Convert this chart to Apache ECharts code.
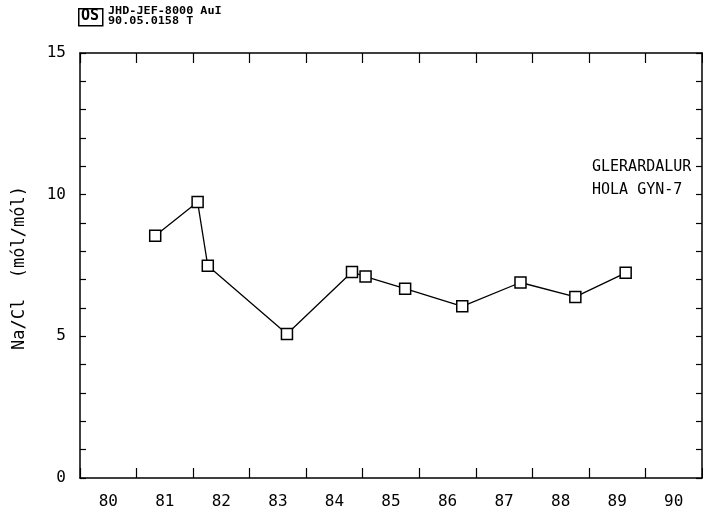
<!DOCTYPE html>
<html>
<head>
<meta charset="utf-8">
<script src="https://cdn.jsdelivr.net/npm/echarts@6/dist/echarts.min.js"></script>
<style>
html,body{margin:0;padding:0;background:#fff;}
#chart{width:703px;height:515px;}
</style>
</head>
<body>
<div id="chart"></div>
<script>
// Year labels on x axis (centered within each year)
var yearLabels = ['80','81','82','83','84','85','86','87','88','89','90'];
// Sample dates (decimal years, 19xx)
var sampleYears = [81.33, 82.08, 82.26, 83.66, 84.81, 85.05, 85.75, 86.76, 87.79, 88.76, 89.65];
// Na/Cl ratio (mol/mol)
var naClRatio = [8.55, 9.74, 7.49, 5.08, 7.27, 7.11, 6.68, 6.06, 6.90, 6.39, 7.24];
var yTickLabels = ['0','5','10','15'];

var FONT = 'DejaVu Sans Mono';
var chart = echarts.init(document.getElementById('chart'), null, {renderer:'canvas'});

var seriesData = sampleYears.map(function(x, i){ return [x, naClRatio[i]]; });
var lineCol = '#000';

var option = {
  animation: false,
  backgroundColor: '#fff',
  grid: {left: 80, top: 53, width: 622, height: 425, containLabel: false},
  xAxis: [
    {type:'value', min:80, max:91, interval:1, position:'bottom',
     axisLine:{show:true, onZero:false, lineStyle:{color:lineCol, width:1.5}},
     axisTick:{show:true, inside:true, length:10, lineStyle:{color:lineCol, width:1.2}},
     axisLabel:{show:false}, splitLine:{show:false}},
    {type:'value', min:80, max:91, interval:1, position:'top',
     axisLine:{show:true, onZero:false, lineStyle:{color:lineCol, width:1.5}},
     axisTick:{show:true, inside:true, length:10, lineStyle:{color:lineCol, width:1.2}},
     axisLabel:{show:false}, splitLine:{show:false}},
    {type:'category', data: yearLabels, position:'bottom', boundaryGap:true,
     axisLine:{show:false}, axisTick:{show:false}, splitLine:{show:false},
     axisLabel:{show:true, margin:16, color:'#000', fontFamily:FONT, fontSize:16}}
  ],
  yAxis: [
    {type:'value', min:0, max:15, interval:1, position:'left',
     axisLine:{show:true, onZero:false, lineStyle:{color:lineCol, width:1.5}},
     axisTick:{show:true, inside:true, length:6, lineStyle:{color:lineCol, width:1.2}},
     axisLabel:{show:true, margin:14, color:'#000', fontFamily:FONT, fontSize:16,
       formatter:function(v){ return yTickLabels.indexOf(String(v)) >= 0 ? String(v) : ''; }},
     splitLine:{show:false}},
    {type:'value', min:0, max:15, interval:1, position:'right',
     axisLine:{show:true, onZero:false, lineStyle:{color:lineCol, width:1.5}},
     axisTick:{show:true, inside:true, length:6, lineStyle:{color:lineCol, width:1.2}},
     axisLabel:{show:false}, splitLine:{show:false}}
  ],
  series: [{
    type:'line', xAxisIndex:0, yAxisIndex:0,
    data: seriesData,
    symbol:'rect', symbolSize:11,
    lineStyle:{color:'#000', width:1.3},
    itemStyle:{color:'#fff', borderColor:'#000', borderWidth:1.5}
  }],
  graphic: [
    {type:'rect', left:78, top:8, shape:{width:24, height:17},
     style:{fill:'#fff', stroke:'#000', lineWidth:1.5}},
    {type:'text', left:81, top:9, style:{text:'OS', font:'bold 15px "DejaVu Sans Mono"', fill:'#000'}},
    {type:'text', x:108, y:6, scaleX:1.18, style:{text:'JHD-JEF-8000 AuI\n90.05.0158 T', font:'bold 10px "DejaVu Sans Mono"', fill:'#000', lineHeight:10}},
    {type:'text', left:592, top:160, style:{text:'GLERARDALUR', font:'15px "DejaVu Sans Mono"', fill:'#000'}},
    {type:'text', left:592, top:183, style:{text:'HOLA GYN-7', font:'15px "DejaVu Sans Mono"', fill:'#000'}},
    {type:'text', x:20, y:268, rotation:Math.PI/2,
     style:{text:'Na/Cl  (mól/mól)', font:'17px "DejaVu Sans Mono"', fill:'#000', align:'center', verticalAlign:'middle'}}
  ]
};
chart.setOption(option);
</script>
</body>
</html>
